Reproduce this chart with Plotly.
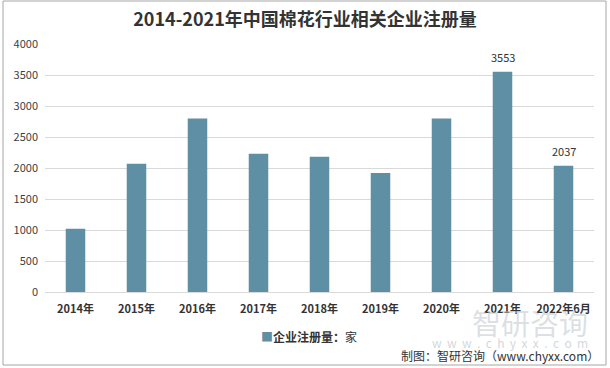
import plotly.graph_objects as go

categories = ["2014年", "2015年", "2016年", "2017年", "2018年", "2019年", "2020年", "2021年", "2022年6月"]
values = [1020, 2070, 2800, 2230, 2180, 1920, 2800, 3553, 2037]
show_label = [False, False, False, False, False, False, False, True, True]
y_ticks = [0, 500, 1000, 1500, 2000, 2500, 3000, 3500, 4000]
series_name = "企业注册量"
unit = "家"

FONT = "Noto Sans CJK SC, Microsoft YaHei, sans-serif"
BAR_COLOR = "#5E8FA4"

fig = go.Figure()
fig.add_trace(go.Bar(
    x=categories, y=values, name=series_name,
    marker=dict(color=BAR_COLOR, line=dict(width=0)),
    width=0.32, showlegend=False,
))

# data labels tied to the data values
for c, v, s in zip(categories, values, show_label):
    if s:
        fig.add_annotation(x=c, y=v, xref="x", yref="y", text=str(v), showarrow=False,
                           yanchor="bottom", yshift=5,
                           font=dict(family=FONT, size=11, color="#333333"))

fig.update_layout(
    width=610, height=368,
    margin=dict(l=45, r=16, t=44, b=76, autoexpand=False),
    paper_bgcolor="white", plot_bgcolor="white",
    title=dict(text="<b>2014-2021年中国棉花行业相关企业注册量</b>", x=0.5, xref="container", xanchor="center",
               y=1 - 20/368, yanchor="middle",
               font=dict(family=FONT, size=18, color="#333333")),
    font=dict(family=FONT, color="#404040"),
    showlegend=False,
    xaxis=dict(showgrid=False, showline=False, ticks="", tickfont=dict(family=FONT, size=11, color="#333333"),
               tickangle=0, tickprefix="<b>", ticksuffix="</b>", ticklabelstandoff=9),
    yaxis=dict(range=[0, 4000], tickvals=y_ticks, showgrid=True, gridcolor="#D9D9D9", gridwidth=1,
               zeroline=True, zerolinecolor="#D9D9D9", zerolinewidth=1, showline=False, ticks="",
               tickfont=dict(family=FONT, size=11, color="#404040"), ticklabelstandoff=6),
)

# outer frame
fig.add_shape(type="rect", xref="paper", yref="paper",
              x0=-42/549, x1=(606-45)/549, y0=(292-365)/248, y1=(292-1)/248,
              line=dict(color="#A6A6A6", width=1), fillcolor="rgba(0,0,0,0)", layer="below")

# watermark
fig.add_annotation(text="智研咨询", xref="paper", yref="paper", x=(590-45)/549, xanchor="right",
                   y=(292-322)/248, yanchor="middle",
                   showarrow=False, font=dict(family=FONT, size=29, color="rgba(190,198,206,0.55)"))
fig.add_annotation(text="w  w  w  .  c  h  y  x  x  .  c  o  m", xref="paper", yref="paper", x=(590-45)/549, xanchor="right",
                   y=(292-342)/248, yanchor="middle",
                   showarrow=False, font=dict(family=FONT, size=12, color="rgba(190,198,206,0.7)"))
# legend (as annotation for compact marker spacing)
fig.add_annotation(text="<span style='color:%s'>■</span><b>%s：</b>%s" % (BAR_COLOR, series_name, unit),
                   xref="paper", yref="paper", x=(259-45)/549, xanchor="left",
                   y=(292-336)/248, yanchor="middle",
                   showarrow=False, font=dict(family=FONT, size=12, color="#333333"))
# source
fig.add_annotation(text="制图：智研咨询（www.chyxx.com）", xref="paper", yref="paper",
                   x=(601-45)/549, xanchor="right", y=(292-355)/248, yanchor="middle",
                   showarrow=False, font=dict(family=FONT, size=12, color="#333333"))

fig.write_html("out.html", config={"displayModeBar": False})
with open("out.html", "r", encoding="utf-8") as f:
    html = f.read()
html = html.replace("<head>", "<head><style>html,body{margin:0;padding:0;overflow:hidden}</style>", 1)
with open("out.html", "w", encoding="utf-8") as f:
    f.write(html)
